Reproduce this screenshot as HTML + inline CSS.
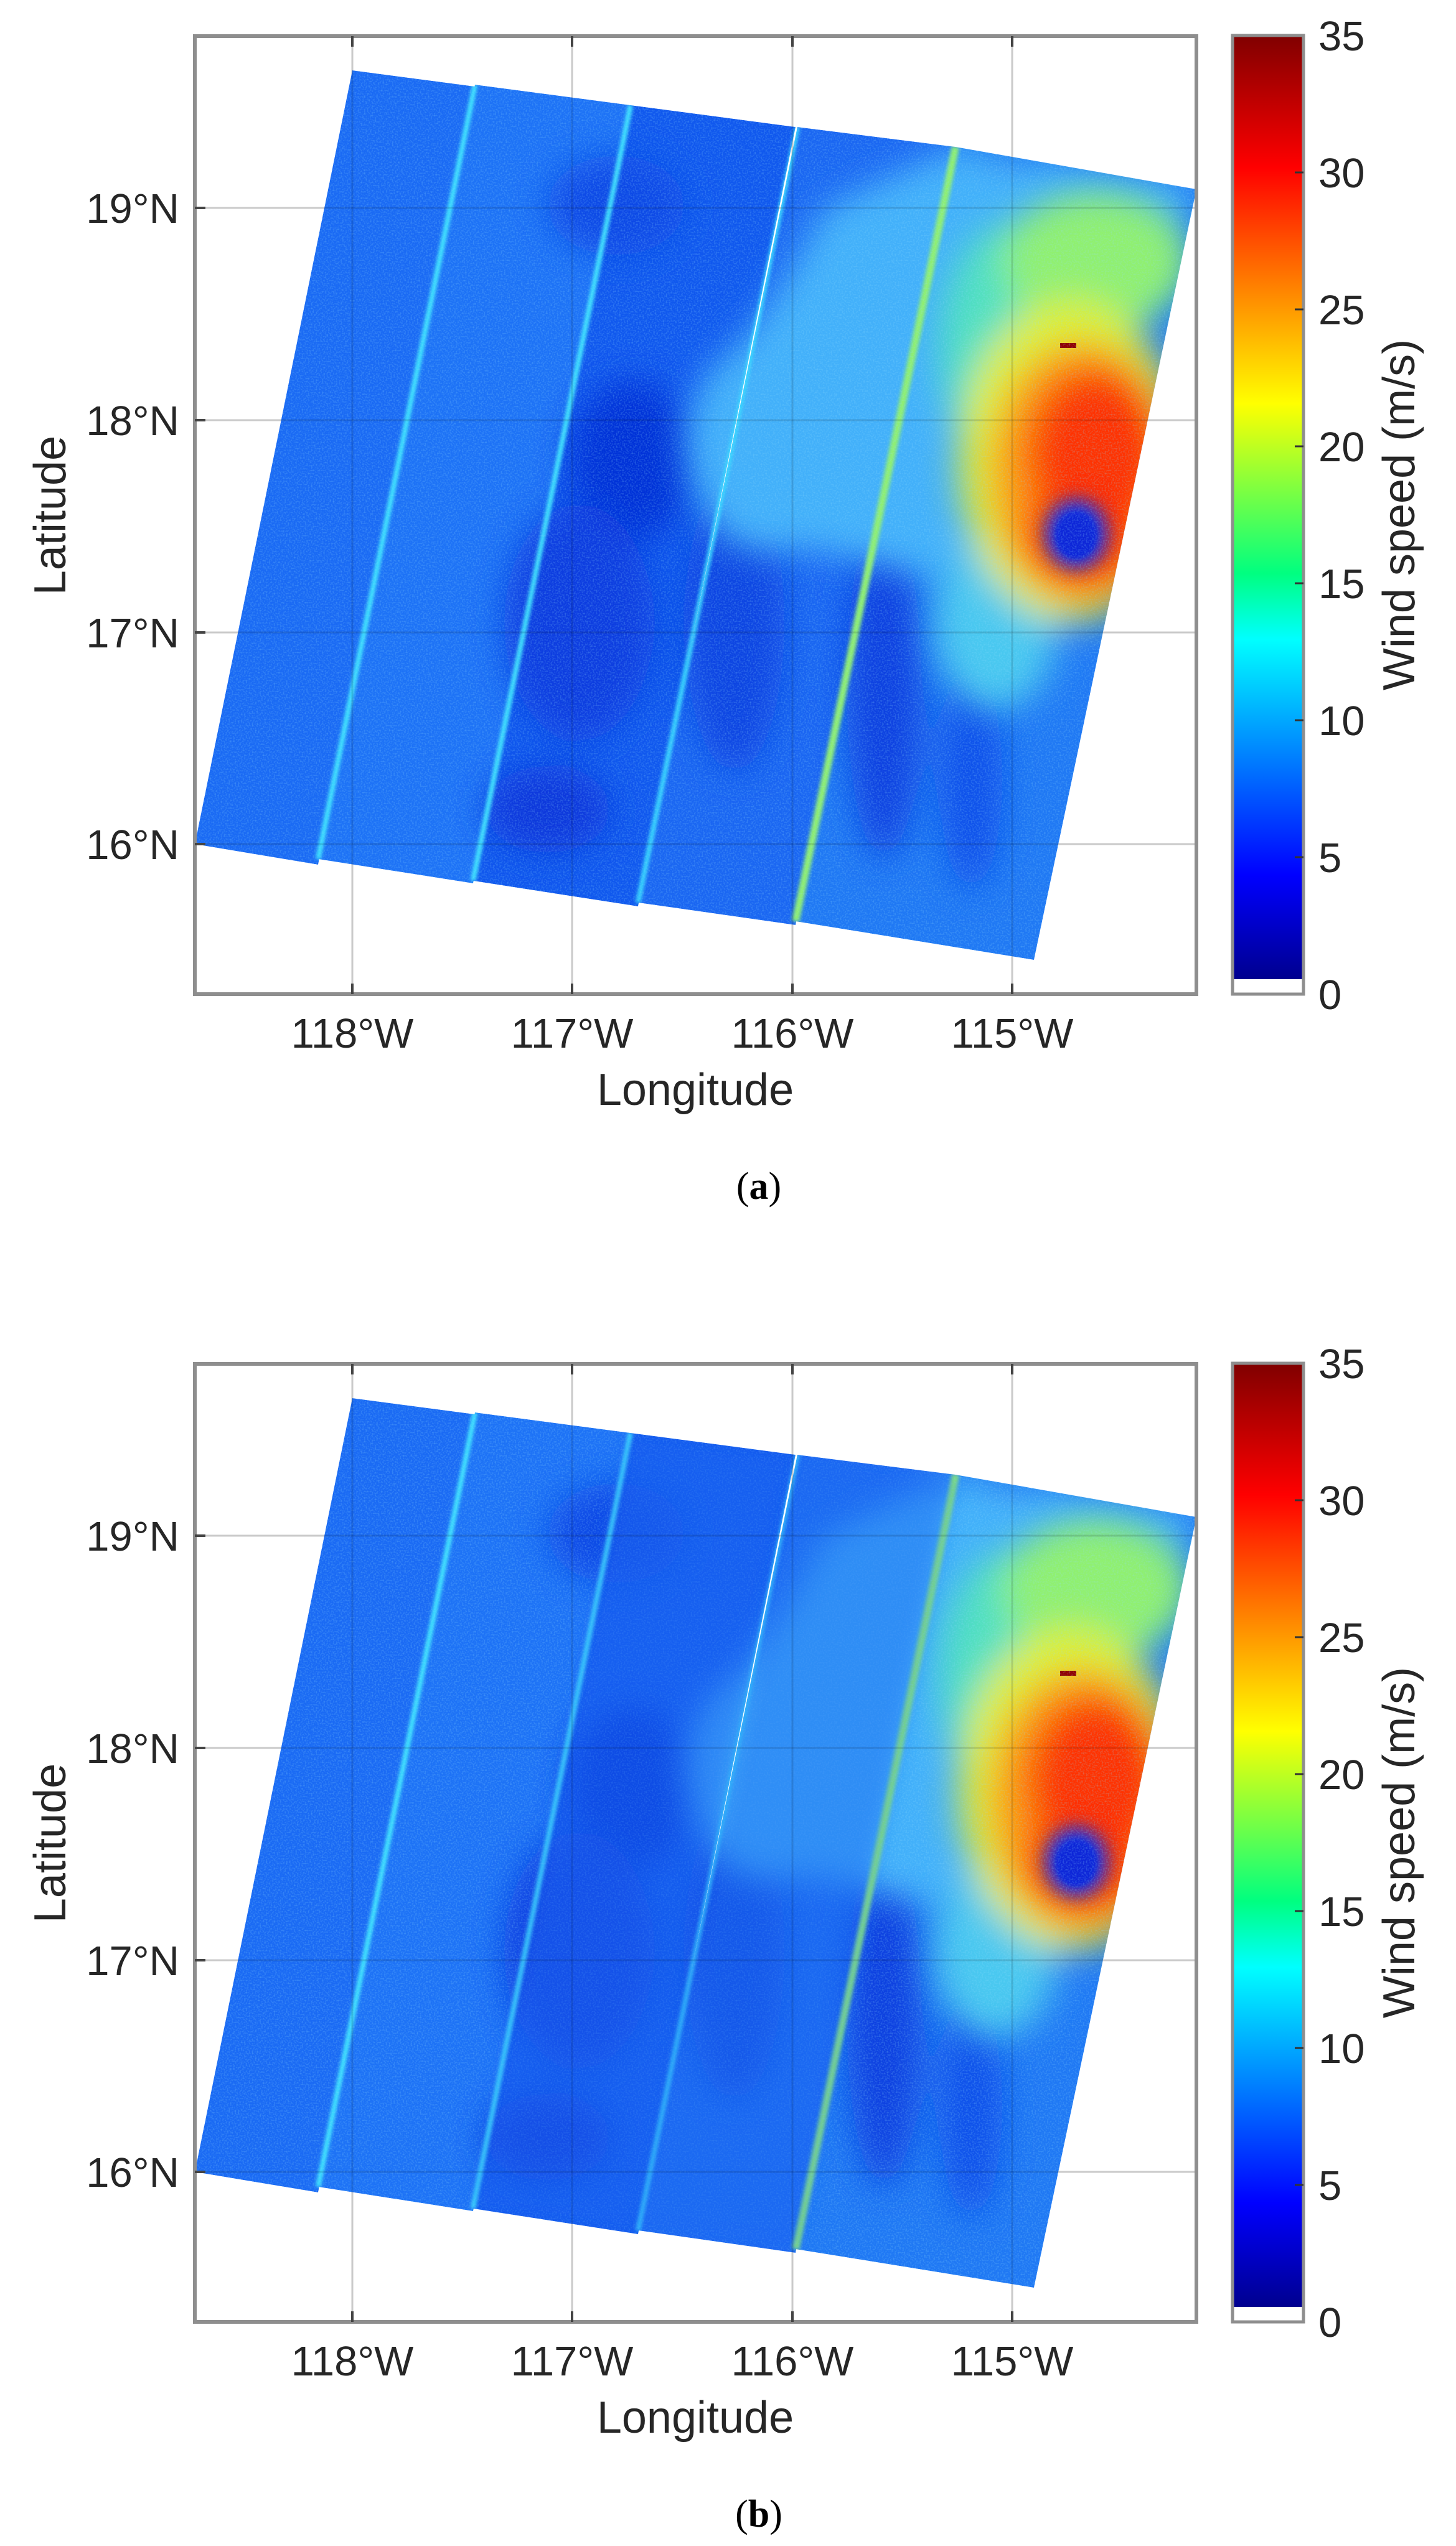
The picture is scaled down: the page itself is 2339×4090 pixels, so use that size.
<!DOCTYPE html>
<html><head><meta charset="utf-8"><style>
html,body{margin:0;padding:0;background:#fff;}
svg{display:block;}
text{font-family:"Liberation Sans",Arial,sans-serif;fill:#262626;}
</style></head><body>
<svg width="2339" height="4090" viewBox="0 0 2339 4090" xmlns="http://www.w3.org/2000/svg">
<defs>
  <linearGradient id="jet" x1="0" y1="1" x2="0" y2="0">
    <stop offset="0" stop-color="#00008f"/>
    <stop offset="0.11" stop-color="#0000ff"/>
    <stop offset="0.36" stop-color="#00ffff"/>
    <stop offset="0.43" stop-color="#00ff80"/>
    <stop offset="0.61" stop-color="#ffff00"/>
    <stop offset="0.86" stop-color="#ff0000"/>
    <stop offset="1" stop-color="#800000"/>
  </linearGradient>
  <filter id="b30" x="-50%" y="-50%" width="200%" height="200%"><feGaussianBlur stdDeviation="28"/></filter>
  <filter id="b15" x="-50%" y="-50%" width="200%" height="200%"><feGaussianBlur stdDeviation="14"/></filter>
  <filter id="b6" x="-50%" y="-50%" width="200%" height="200%"><feGaussianBlur stdDeviation="3"/></filter>
  <filter id="noise" x="0" y="0" width="100%" height="100%">
    <feTurbulence type="fractalNoise" baseFrequency="0.4" numOctaves="1" seed="3"/>
    <feColorMatrix type="matrix" values="0 0 0 0 0.3  0 0 0 0 0.75  0 0 0 0 1  0 0 0 1.6 -0.7"/>
  </filter>
  <clipPath id="mos">
    <polygon points="566,113 763,139 511,1389 313,1356"/>
    <polygon points="763,136 1013,169 760,1419 511,1380"/>
    <polygon points="1013,169 1278,204 1025,1456 760,1415"/>
    <polygon points="1281,204 1535,236 1278,1486 1025,1450"/>
    <polygon points="1535,236 1922,304 1661,1542 1278,1480"/>
  </clipPath>
  <clipPath id="s5"><polygon points="1535,236 1922,304 1661,1542 1278,1480"/></clipPath>
  <g id="img">
    <g clip-path="url(#mos)">
      <polygon points="566,113 763,139 511,1389 313,1356" fill="#1a6af4"/>
      <polygon points="763,136 1013,169 760,1419 511,1380" fill="#1d72f6"/>
      <polygon points="1013,169 1278,204 1025,1456 760,1415" fill="#1058ee"/>
      <polygon points="1281,204 1535,236 1278,1486 1025,1450" fill="#1a66f2"/>
      <polygon points="1535,236 1922,304 1661,1542 1278,1480" fill="#1f78f4"/>
      <g filter="url(#b30)">
        <ellipse cx="1015" cy="740" rx="100" ry="130" fill="#0630d8"/>
        <ellipse cx="990" cy="330" rx="110" ry="80" fill="#0c48e6"/>
        <ellipse cx="930" cy="1000" rx="120" ry="190" fill="#0a3ee0"/>
        <ellipse cx="880" cy="1300" rx="100" ry="70" fill="#0838dc"/>
        <ellipse cx="1180" cy="1000" rx="80" ry="240" fill="#0c44e2"/>
        <ellipse cx="1420" cy="1100" rx="60" ry="280" fill="#0a40e0"/>
        <ellipse cx="1560" cy="1250" rx="50" ry="180" fill="#1050ea"/>
        <ellipse cx="1610" cy="300" rx="55" ry="35" fill="#0a40e0"/>
      </g>
      <path d="M1313,354 C1280,420 1238,497 1180,560 C1104,613 1095,692 1110,760 C1135,875 1200,900 1290,880 L1600,950 L1922,300 L1535,236 L1330,330 Z" fill="#42b0fa" filter="url(#b30)"/>
      <g clip-path="url(#s5)" filter="url(#b30)">
        <ellipse cx="1620" cy="560" rx="110" ry="200" fill="#50e0c0"/>
        <ellipse cx="1760" cy="420" rx="150" ry="110" fill="#90f070"/>
        <ellipse cx="1600" cy="1000" rx="100" ry="140" fill="#48c8f0"/>
        <ellipse cx="1720" cy="740" rx="180" ry="260" fill="#e0f030"/>
        <ellipse cx="1740" cy="760" rx="150" ry="210" fill="#ff9a10"/>
        <ellipse cx="1760" cy="730" rx="110" ry="140" fill="#ff3000"/>
        <ellipse cx="1740" cy="860" rx="95" ry="85" fill="#ff2a00"/>
      </g>
      <ellipse cx="1729" cy="858" rx="50" ry="56" fill="#1030e8" filter="url(#b15)"/>
      <ellipse cx="1729" cy="860" rx="32" ry="36" fill="#0a28d8" filter="url(#b6)"/>
      <rect x="1703" y="551" width="26" height="8" fill="#900000"/>
      <g stroke-width="8" fill="none" filter="url(#b6)">
        <line x1="763" y1="136" x2="511" y2="1380" stroke="#40e8ff"/>
        <line x1="1013" y1="169" x2="760" y2="1415" stroke="#40e8ff"/>
        <line x1="1281" y1="204" x2="1025" y2="1450" stroke="#38d8ff"/>
        <line x1="1535" y1="236" x2="1278" y2="1480" stroke="#90f070" stroke-width="12"/>
      </g>
      <rect x="300" y="100" width="1640" height="1460" filter="url(#noise)" opacity="0.45"/>
    </g>
  </g>
</defs>

<g>
  <rect x="313" y="58" width="1609" height="1539" fill="#fff"/>
  <g stroke="#e6e6e6" stroke-width="3">
    <line x1="566" y1="58" x2="566" y2="1597"/><line x1="919" y1="58" x2="919" y2="1597"/>
    <line x1="1273" y1="58" x2="1273" y2="1597"/><line x1="1626" y1="58" x2="1626" y2="1597"/>
    <line x1="313" y1="334" x2="1922" y2="334"/><line x1="313" y1="675" x2="1922" y2="675"/>
    <line x1="313" y1="1016" x2="1922" y2="1016"/><line x1="313" y1="1356" x2="1922" y2="1356"/>
  </g>
  <use href="#img"/>
  <g stroke="#000" stroke-opacity="0.12" stroke-width="3">
    <line x1="566" y1="58" x2="566" y2="1597"/><line x1="919" y1="58" x2="919" y2="1597"/>
    <line x1="1273" y1="58" x2="1273" y2="1597"/><line x1="1626" y1="58" x2="1626" y2="1597"/>
    <line x1="313" y1="334" x2="1922" y2="334"/><line x1="313" y1="675" x2="1922" y2="675"/>
    <line x1="313" y1="1016" x2="1922" y2="1016"/><line x1="313" y1="1356" x2="1922" y2="1356"/>
  </g>
  <rect x="313" y="58" width="1609" height="1539" fill="none" stroke="#8e8e8e" stroke-width="6"/>
  <g stroke="#444" stroke-width="4">
    <line x1="566" y1="1597" x2="566" y2="1580"/><line x1="919" y1="1597" x2="919" y2="1580"/>
    <line x1="1273" y1="1597" x2="1273" y2="1580"/><line x1="1626" y1="1597" x2="1626" y2="1580"/>
    <line x1="566" y1="58" x2="566" y2="75"/><line x1="919" y1="58" x2="919" y2="75"/>
    <line x1="1273" y1="58" x2="1273" y2="75"/><line x1="1626" y1="58" x2="1626" y2="75"/>
    <line x1="313" y1="334" x2="330" y2="334"/><line x1="313" y1="675" x2="330" y2="675"/>
    <line x1="313" y1="1016" x2="330" y2="1016"/><line x1="313" y1="1356" x2="330" y2="1356"/>
  </g>
  <g font-size="67" text-anchor="end">
    <text x="288" y="358">19°N</text><text x="288" y="699">18°N</text>
    <text x="288" y="1040">17°N</text><text x="288" y="1380">16°N</text>
  </g>
  <g font-size="67" text-anchor="middle">
    <text x="566" y="1683">118°W</text><text x="919" y="1683">117°W</text>
    <text x="1273" y="1683">116°W</text><text x="1626" y="1683">115°W</text>
  </g>
  <text x="1117" y="1775" font-size="72" text-anchor="middle">Longitude</text>
  <text transform="translate(105,828) rotate(-90)" font-size="72" text-anchor="middle">Latitude</text>
  <rect x="1980" y="57" width="114" height="1540" fill="#fff"/>
  <rect x="1980" y="57" width="114" height="1516" fill="url(#jet)"/>
  <rect x="1980" y="57" width="114" height="1540" fill="none" stroke="#8e8e8e" stroke-width="5"/>
  <g stroke="#333" stroke-width="3">
    <line x1="2080" y1="277" x2="2094" y2="277"/><line x1="2080" y1="497" x2="2094" y2="497"/>
    <line x1="2080" y1="717" x2="2094" y2="717"/><line x1="2080" y1="937" x2="2094" y2="937"/>
    <line x1="2080" y1="1157" x2="2094" y2="1157"/><line x1="2080" y1="1377" x2="2094" y2="1377"/>
  </g>
  <g font-size="67">
    <text x="2118" y="81">35</text><text x="2118" y="301">30</text><text x="2118" y="521">25</text>
    <text x="2118" y="741">20</text><text x="2118" y="961">15</text><text x="2118" y="1181">10</text>
    <text x="2118" y="1401">5</text><text x="2118" y="1621">0</text>
  </g>
  <text transform="translate(2272,827) rotate(-90)" font-size="72" text-anchor="middle">Wind speed (m/s)</text>
  <text x="1219" y="1926" font-size="62" text-anchor="middle" style="font-family:'Liberation Serif',serif;fill:#000">(<tspan font-weight="bold">a</tspan>)</text>
</g>

<g transform="translate(0,2133)">
  <rect x="313" y="58" width="1609" height="1539" fill="#fff"/>
  <g stroke="#e6e6e6" stroke-width="3">
    <line x1="566" y1="58" x2="566" y2="1597"/><line x1="919" y1="58" x2="919" y2="1597"/>
    <line x1="1273" y1="58" x2="1273" y2="1597"/><line x1="1626" y1="58" x2="1626" y2="1597"/>
    <line x1="313" y1="334" x2="1922" y2="334"/><line x1="313" y1="675" x2="1922" y2="675"/>
    <line x1="313" y1="1016" x2="1922" y2="1016"/><line x1="313" y1="1356" x2="1922" y2="1356"/>
  </g>
  <use href="#img"/>
  <g clip-path="url(#mos)" opacity="0.5">
    <polygon points="1013,169 1278,204 1025,1456 760,1415" fill="#1a66f2" filter="url(#b15)"/>
    <polygon points="1281,204 1535,236 1278,1486 1025,1450" fill="#1e6cf2" filter="url(#b15)"/>
  </g>
  <g stroke="#000" stroke-opacity="0.12" stroke-width="3">
    <line x1="566" y1="58" x2="566" y2="1597"/><line x1="919" y1="58" x2="919" y2="1597"/>
    <line x1="1273" y1="58" x2="1273" y2="1597"/><line x1="1626" y1="58" x2="1626" y2="1597"/>
    <line x1="313" y1="334" x2="1922" y2="334"/><line x1="313" y1="675" x2="1922" y2="675"/>
    <line x1="313" y1="1016" x2="1922" y2="1016"/><line x1="313" y1="1356" x2="1922" y2="1356"/>
  </g>
  <rect x="313" y="58" width="1609" height="1539" fill="none" stroke="#8e8e8e" stroke-width="6"/>
  <g stroke="#444" stroke-width="4">
    <line x1="566" y1="1597" x2="566" y2="1580"/><line x1="919" y1="1597" x2="919" y2="1580"/>
    <line x1="1273" y1="1597" x2="1273" y2="1580"/><line x1="1626" y1="1597" x2="1626" y2="1580"/>
    <line x1="566" y1="58" x2="566" y2="75"/><line x1="919" y1="58" x2="919" y2="75"/>
    <line x1="1273" y1="58" x2="1273" y2="75"/><line x1="1626" y1="58" x2="1626" y2="75"/>
    <line x1="313" y1="334" x2="330" y2="334"/><line x1="313" y1="675" x2="330" y2="675"/>
    <line x1="313" y1="1016" x2="330" y2="1016"/><line x1="313" y1="1356" x2="330" y2="1356"/>
  </g>
  <g font-size="67" text-anchor="end">
    <text x="288" y="358">19°N</text><text x="288" y="699">18°N</text>
    <text x="288" y="1040">17°N</text><text x="288" y="1380">16°N</text>
  </g>
  <g font-size="67" text-anchor="middle">
    <text x="566" y="1683">118°W</text><text x="919" y="1683">117°W</text>
    <text x="1273" y="1683">116°W</text><text x="1626" y="1683">115°W</text>
  </g>
  <text x="1117" y="1775" font-size="72" text-anchor="middle">Longitude</text>
  <text transform="translate(105,828) rotate(-90)" font-size="72" text-anchor="middle">Latitude</text>
  <rect x="1980" y="57" width="114" height="1540" fill="#fff"/>
  <rect x="1980" y="57" width="114" height="1516" fill="url(#jet)"/>
  <rect x="1980" y="57" width="114" height="1540" fill="none" stroke="#8e8e8e" stroke-width="5"/>
  <g stroke="#333" stroke-width="3">
    <line x1="2080" y1="277" x2="2094" y2="277"/><line x1="2080" y1="497" x2="2094" y2="497"/>
    <line x1="2080" y1="717" x2="2094" y2="717"/><line x1="2080" y1="937" x2="2094" y2="937"/>
    <line x1="2080" y1="1157" x2="2094" y2="1157"/><line x1="2080" y1="1377" x2="2094" y2="1377"/>
  </g>
  <g font-size="67">
    <text x="2118" y="81">35</text><text x="2118" y="301">30</text><text x="2118" y="521">25</text>
    <text x="2118" y="741">20</text><text x="2118" y="961">15</text><text x="2118" y="1181">10</text>
    <text x="2118" y="1401">5</text><text x="2118" y="1621">0</text>
  </g>
  <text transform="translate(2272,827) rotate(-90)" font-size="72" text-anchor="middle">Wind speed (m/s)</text>
  <text x="1219" y="1926" font-size="62" text-anchor="middle" style="font-family:'Liberation Serif',serif;fill:#000">(<tspan font-weight="bold">b</tspan>)</text>
</g>
</svg>
</body></html>
